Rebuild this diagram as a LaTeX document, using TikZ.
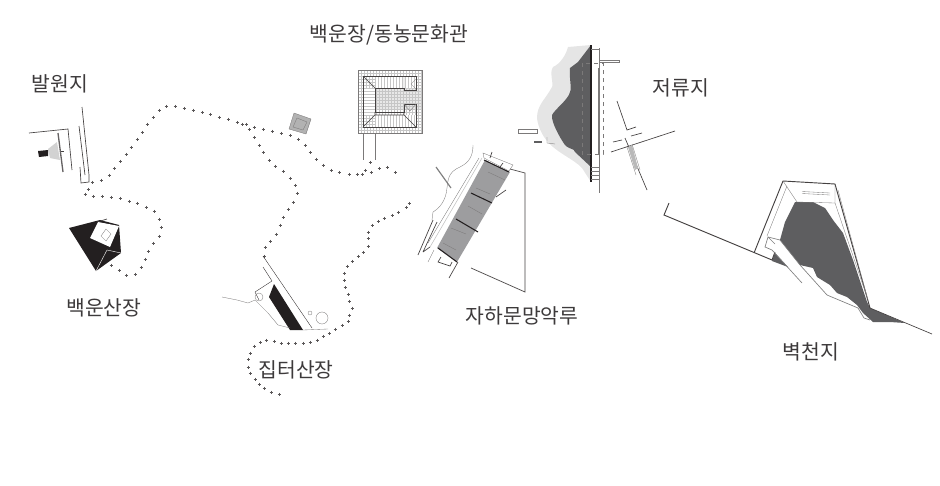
\documentclass[tikz,border=0pt]{standalone}
\usepackage{fontspec}
\setmainfont{Noto Sans CJK KR}
\definecolor{ink}{HTML}{231F20}
\definecolor{waterdark}{HTML}{5E5E60}
\definecolor{roofgray}{HTML}{9D9D9F}
\tikzset{
	placelabel/.style={font=\fontsize{15.3}{17}\selectfont,text=ink!88,inner sep=0},
	trailmark/.style={line width=0.3pt,color=ink!75},
	wall/.style={line width=0.5pt,color=ink!85},
	thinwall/.style={line width=0.25pt,color=ink!60},
	gridline/.style={line width=0.1pt,color=gray!45},
}
\newcommand{\trailat}[2]{\draw[trailmark] (#1,#2) +(-1.5,0) -- +(1.5,0) +(0,-1.5) -- +(0,1.5);}
\begin{document}
\begin{tikzpicture}[x=0.75pt,y=-0.75pt]
		\useasboundingbox (0,0) rectangle (940,486);
		\foreach \x/\y in {92/182,101/180,109/175,114/168,120/161,126/154,131/147,137/139,142/132,147/124,153/117,159/110,166/106,175/106,184/108,193/110,202/112,210/114,219/117,228/119,237/122,242/124,246/124,254/127,263/129,272/131,281/133,290/135,298/139,305/145,310/152,316/159,323/165,331/170,339/172,349/174,357/174,362/174,365/170,370/162,371/172,379/168,387/167,395/172}
			{\trailat{\x}{\y}}
		\foreach \x/\y in {249/129,254/137,259/145,263/152,269/160,275/166,283/171,290/178,295/185,297/193,293/202,288/209,283/217,280/225,276/234,270/241,265/247,264/256}
			{\trailat{\x}{\y}}
		\foreach \x/\y in {409/203,406/207,398/212,392/215,384/218,378/221,372/225,368/232,368/238,368/246,363/252,358/256,352/261,347/266,344/273,344/280,345/287,348/294,349/301,352/308,349/315,348/321,342/325,335/329,329/333,323/336,317/340,310/342,303/343,295/343,288/343,281/343,274/341,266/340,260/342,254/346,250/353,248/359,248/367,250/373,255/379,259/384,264/388,271/392,279/394}
			{\trailat{\x}{\y}}
		\foreach \x/\y in {88/189,85/194,93/196,102/196,111/197,120/198,129/201,137/203,146/207,154/211,159/219,161/227,159/236,153/243,148/251,145/259,141/267,135/274,126/275,119/270,111/265}
			{\trailat{\x}{\y}}

		\draw [wall] (82,107) -- (89,175) -- (89,182) -- (81,183) -- (80,167);
		\draw [wall] (79,126) -- (85,175);
		\draw [wall] (29,133) -- (68,129) -- (72,170);
		\fill [gray!35] (48,149) -- (57,142) -- (60,160) -- (50,158) -- cycle;
		\fill [ink] (38,151) -- (48,150) -- (48,156) -- (39,157) -- cycle;
		\draw [line width=1pt,color=ink!70] (58,133) -- (63,172);
		\draw [wall] (61,151) -- (64,151);

		\fill [ink] (69,228) -- (100,220) -- (119,225) -- (121,253) -- (96,271) -- cycle;
		\fill [white] (98,222) -- (119,226) -- (110,247) -- (90,238) -- cycle;
		\draw [thinwall] (106,229) -- (111,234) -- (106,241) -- (101,236) -- cycle;
		\draw [line width=0.3pt,color=white] (107,250) -- (121,253) (107,250) -- (96,271);
		\draw [wall] (97,222) -- (107,219);

		\fill [gray!60] (294,113) -- (311,119) -- (306,134) -- (289,129) -- cycle;
		\draw [thinwall] (294,113) -- (311,119) -- (306,134) -- (289,129) -- cycle;
		\draw [thinwall] (297,118) -- (307,122) -- (303,130) -- (293,127) -- cycle;

		\fill [gray!18] (375,88) rectangle (422,110);
		\begin{scope}
			\clip (358,70) rectangle (422,133);
			\foreach \x in {358,361,...,422} {\draw [gridline] (\x,70) -- (\x,133);}
			\foreach \y in {70,73,...,133} {\draw [gridline] (358,\y) -- (422,\y);}
		\end{scope}
		\draw [thinwall] (358,70) rectangle (422,133);
		\fill [white] (363,76) rectangle (416,88) (363,88) rectangle (375,115) (363,115) rectangle (416,127);
		\foreach \x in {366,369,...,414} {\draw [gridline] (\x,76) -- (\x,88) (\x,115) -- (\x,127);}
		\foreach \y in {79,82,...,127} {\draw [gridline] (363,\y) -- (375,\y);}
		\draw [wall] (363,76) -- (416,76) -- (416,90) -- (404,90) -- (404,88) -- (375,88) -- (375,112) -- (404,112) -- (404,104) -- (416,104) -- (416,127) -- (363,127) -- cycle;
		\draw [wall] (363,76) -- (375,88) (363,127) -- (375,115) -- (404,115) -- (416,127) (375,112) -- (375,115) (404,112) -- (404,115);
		\draw [thinwall] (404,104) -- (410,111) -- (416,104) (404,76) -- (404,88) (416,79) -- (411,84) -- (416,89);
		\draw [thinwall] (363,133) -- (363,160) (375,133) -- (375,160);

		\fill [roofgray] (485,160) -- (510,172) -- (457,262) -- (437,248) -- cycle;
		\draw [line width=0.8pt,color=ink] (471,193) -- (492,203) (456,219) -- (478,232) (438,248) -- (457,262) (484,160) -- (509,172);
		\draw [thinwall] (483,153) -- (484,158) -- (509,171) -- (513,165) -- cycle;
		\draw [wall] (492,152) -- (490,158) (503,163) -- (500,167) (506,190) -- (496,197);
		\foreach \a/\b/\c/\d in {488/172/505/180,476/188/490/194,468/206/482/214,451/228/466/234,443/243/456/250}
			{\draw [thinwall] (\a,\b) -- (\c,\d);}
		\draw [line width=0.4pt,color=gray!50] (482,158) -- (430,247);
		\draw [thinwall] (479,158) -- (428,243);
		\draw [wall] (510,169) -- (525,173) -- (525,292) -- (471,268);
		\draw [line width=0.9pt,color=gray] (436,167) -- (451,188);
		\draw [thinwall] (473,145) .. controls (473,155) and (470,162) .. (460,167) .. controls (448,172) and (448,180) .. (447,188) .. controls (446,200) and (440,208) .. (433,212) -- (432,220);
		\draw [wall] (418,255) -- (433,220) (423,252) -- (437,222) (430,247) -- (423,252) (449,278) -- (458,262);
		\draw [thinwall] (428,262) -- (434,250);
		\draw [wall] (441,257) -- (438,262) -- (450,266) -- (452,262);

		\fill [gray!20] (591,45) -- (568,47) .. controls (566,55) and (560,64) .. (553,67) .. controls (549,72) and (554,85) .. (552,87) .. controls (545,100) and (537,105) .. (537,118) .. controls (538,128) and (544,138) .. (548,142) .. controls (556,152) and (575,160) .. (582,168) -- (591,182) -- cycle;
		\fill [waterdark] (591,45) -- (578,62) -- (570,68) .. controls (569,78) and (572,88) .. (570,92) .. controls (568,100) and (556,108) .. (552,115) .. controls (551,122) and (560,138) .. (565,145) .. controls (570,150) and (574,148) .. (575,152) -- (591,167) -- cycle;
		\draw [line width=0.8pt,color=ink] (591,45) -- (591,182);
		\draw [thinwall] (599,48) -- (599,193) (591,49) -- (599,49) (591,167) -- (599,167) (591,171) -- (599,171) (591,175) -- (599,175) (591,179) -- (599,179);
		\draw [thinwall,dashed] (582,63) rectangle (603,154);
		\draw [thinwall] (598,68) -- (598,154);
		\draw [thinwall] (599,60) rectangle (619,62.5) (518,129) rectangle (537,133);
		\draw [line width=1.1pt,color=waterdark] (534,142) -- (542,142);
		\draw [thinwall] (547,137) -- (547,143) -- (555,144);

		\draw [wall] (617,101) -- (627,130) -- (636,127);
		\draw [wall] (611,152) -- (675,131) (613,142) -- (622,140) (631,136) -- (642,133) (625,138) -- (647,190);
		\fill [gray!55] (628,147) -- (632,145) -- (638,168) -- (635,170) -- cycle;
		\draw [thinwall] (627,147) -- (636,175) (632,144) -- (640,170);

		\fill [waterdark] (795,202) -- (813,202) -- (825,208) -- (833,220) -- (843,233) -- (853,260) -- (867,302) -- (870,308) -- (905,323) -- (890,322) -- (873,322) -- (863,313) -- (857,305) -- (847,297) -- (837,293) -- (830,285) -- (817,277) -- (813,268) -- (800,265) -- (780,240) -- (785,222) -- cycle;
		\fill [waterdark] (775,253) -- (772,261) -- (788,267) -- cycle;
		\draw [wall,line width=0.7pt] (669,203) -- (664,215) -- (772,260) -- (775,252) (754,253) -- (783,181) -- (835,184) -- (870,308);
		\draw [wall] (870,308) -- (932,334);
		\draw [thinwall] (783,181) -- (797,202) -- (835,203) -- (835,184) (835,203) -- (867,297) (787,186) -- (767,236) (838,190) -- (868,300);
		\draw [thinwall] (802,191.5) -- (830,193) (802,193.5) -- (830,195);
		\draw [wall,color=gray] (775,244) -- (768,237) -- (765,247) -- (772,250) -- (802,283);
		\draw [wall,color=gray] (768,237) -- (780,240) -- (800,265) -- (827,295) -- (858,308) -- (864,318) -- (870,320);

		\draw [thinwall,color=ink] (263,256) -- (312,328) (263,267) -- (272,281) -- (255,292) -- (259,300);
		\fill [ink] (274,284) -- (303,330) -- (290,330) -- (269,297) -- cycle;
		\draw [thinwall] (222,297) -- (237,300) -- (248,303) -- (255,300) -- (268,313) -- (278,325) -- (290,328) (303,330) -- (328,329);
		\draw [thinwall] (322,318) circle (6) (310,313) circle (2) (259,297) circle (4);

		\node [placelabel] at (389,35) (baekunjang) {백운장/동농문화관};
		\node [placelabel] at (60,84) (balwonji) {발원지};
		\node [placelabel] at (681,88) (jeoryuji) {저류지};
		\node [placelabel] at (104,308) (baekunsanjang) {백운산장};
		\node [placelabel] at (522,316) (jahamun) {자하문망악루};
		\node [placelabel] at (296,370) (jipteo) {집터산장};
		\node [placelabel] at (811,352) (byeokcheonji) {벽천지};
	\end{tikzpicture}
\end{document}
